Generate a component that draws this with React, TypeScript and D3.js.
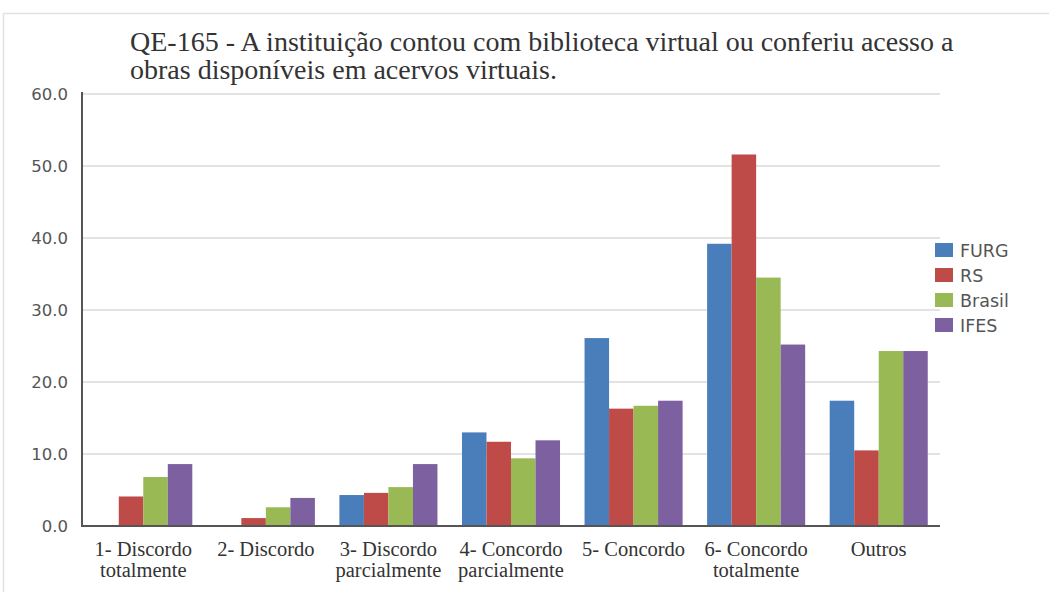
import React from "react";
import * as d3 from "d3";

const categories = [
  ["1- Discordo", "totalmente"],
  ["2- Discordo"],
  ["3- Discordo", "parcialmente"],
  ["4- Concordo", "parcialmente"],
  ["5- Concordo"],
  ["6- Concordo", "totalmente"],
  ["Outros"],
];
const seriesNames = ["FURG", "RS", "Brasil", "IFES"];
const furg = [0, 0, 4.3, 13.0, 26.1, 39.2, 17.4];
const rs = [4.1, 1.1, 4.6, 11.7, 16.3, 51.6, 10.5];
const brasil = [6.8, 2.6, 5.4, 9.4, 16.7, 34.5, 24.3];
const ifes = [8.6, 3.9, 8.6, 11.9, 17.4, 25.2, 24.3];
const seriesValues = [furg, rs, brasil, ifes];
const colors = ["#4a7ebb", "#be4b48", "#98b954", "#7d60a0"];
const yTicks = [0, 10, 20, 30, 40, 50, 60];
const titleLines = [
  "QE-165 - A instituição contou com biblioteca virtual ou conferiu acesso a",
  "obras disponíveis em acervos virtuais.",
];

export default function App() {
  const W = 1049, H = 592;
  const left = 82, right = 940, top = 94, bottom = 526;
  const x0 = d3.scaleBand<number>().domain(categories.map((_, i) => i)).range([left, right]).paddingInner(0.2).paddingOuter(0.1);
  const x1 = d3.scaleBand<number>().domain(seriesNames.map((_, i) => i)).range([0, x0.bandwidth()]);
  const y = d3.scaleLinear().domain([0, 60]).range([bottom, top]);
  const serif = "Liberation Serif";
  const sans = "DejaVu Sans";
  return (
    <svg width={W} height={H} style={{ position: "absolute", left: 0, top: 0, background: "#fff" }}>
      <rect x={3.5} y={13.5} width={W} height={H} fill="none" stroke="#e2e2e2" strokeWidth={1.5} />
      <text x={130} y={51} fontFamily={serif} fontSize={28} fill="#333">{titleLines[0]}</text>
      <text x={130} y={79} fontFamily={serif} fontSize={28} fill="#333">{titleLines[1]}</text>
      {yTicks.map((t) => (
        <g key={t}>
          {t > 0 && <line x1={left} x2={right} y1={y(t)} y2={y(t)} stroke="#e3e3e3" strokeWidth={2} />}
          <text x={68} y={y(t) + 6} textAnchor="end" fontFamily={sans} fontSize={16.5} fill="#555">{t.toFixed(1)}</text>
        </g>
      ))}
      {seriesValues.map((vals, s) =>
        vals.map((v, i) => (
          <rect key={s + "-" + i} x={(x0(i) as number) + (x1(s) as number)} y={y(v)} width={x1.bandwidth()} height={bottom - y(v)} fill={colors[s]} />
        ))
      )}
      <line x1={left} x2={left} y1={top - 2} y2={bottom + 1} stroke="#555" strokeWidth={2} />
      <line x1={left - 1} x2={right} y1={bottom} y2={bottom} stroke="#555" strokeWidth={2} />
      {categories.map((lines, i) => (
        <text key={i} textAnchor="middle" fontFamily={serif} fontSize={20.5} fill="#333">
          {lines.map((l, k) => (
            <tspan key={k} x={(x0(i) as number) + x0.bandwidth() / 2} y={556 + k * 21}>{l}</tspan>
          ))}
        </text>
      ))}
      {seriesNames.map((n, s) => (
        <g key={n} transform={`translate(935, ${243 + s * 25})`}>
          <rect width={18} height={14} fill={colors[s]} />
          <text x={25} y={14} fontFamily={sans} fontSize={17.5} fill="#555">{n}</text>
        </g>
      ))}
    </svg>
  );
}
